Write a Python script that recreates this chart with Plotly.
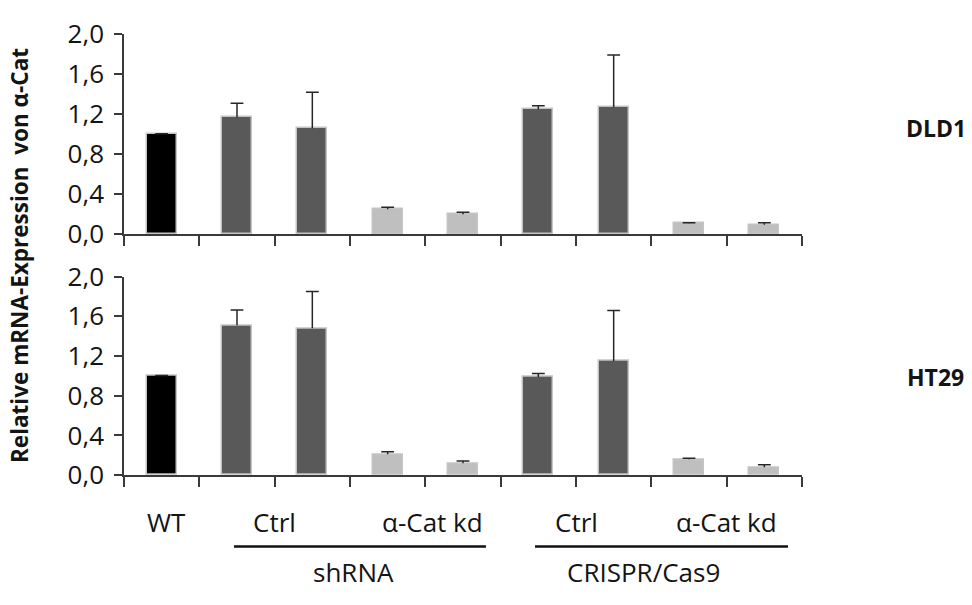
import plotly.graph_objects as go

# Sample order along the x axis
categories = [
    "WT",
    "shRNA Ctrl 1", "shRNA Ctrl 2",
    "shRNA α-Cat kd 1", "shRNA α-Cat kd 2",
    "CRISPR Ctrl 1", "CRISPR Ctrl 2",
    "CRISPR α-Cat kd 1", "CRISPR α-Cat kd 2",
]
groups = ["wt", "ctrl", "ctrl", "kd", "kd", "ctrl", "ctrl", "kd", "kd"]

# Relative mRNA expression of alpha-catenin (mean and upper SD)
dld1 = [1.00, 1.17, 1.06, 0.25, 0.20, 1.25, 1.27, 0.11, 0.095]
dld1_err = [0.005, 0.14, 0.36, 0.02, 0.022, 0.035, 0.52, 0.005, 0.02]
ht29 = [1.00, 1.51, 1.48, 0.21, 0.12, 0.99, 1.15, 0.16, 0.08]
ht29_err = [0.005, 0.155, 0.37, 0.025, 0.022, 0.035, 0.51, 0.01, 0.025]

y_ticks = [0.0, 0.4, 0.8, 1.2, 1.6, 2.0]

group_colors = {"wt": "#000000", "ctrl": "#595959", "kd": "#bfbfbf"}
colors = [group_colors[g] for g in groups]
xpos = list(range(len(categories)))

FONT = "Open Sans"
TXT = "#141414"
AXIS = "#3a3a3a"
CAP = 0.085  # half-width of the error-bar caps in category units


def whiskers(values, errors):
    xs, ys = [], []
    for x, v, e in zip(xpos, values, errors):
        top = v + e
        xs += [x, x, None, x - CAP, x + CAP, None]
        ys += [v, top, None, top, top, None]
    return xs, ys


fig = go.Figure()
for vals, errs, xa, ya in [(dld1, dld1_err, "x", "y"), (ht29, ht29_err, "x2", "y2")]:
    fig.add_trace(go.Bar(
        x=xpos, y=vals, width=0.4, xaxis=xa, yaxis=ya,
        marker=dict(color=colors, line=dict(color="#c4c4c4", width=1.5)),
        hovertext=categories, showlegend=False,
    ))
    wx, wy = whiskers(vals, errs)
    fig.add_trace(go.Scatter(
        x=wx, y=wy, mode="lines", xaxis=xa, yaxis=ya,
        line=dict(color="#262626", width=1.5), showlegend=False, hoverinfo="skip",
    ))

x_dom = [124 / 972, 802 / 972]
top_dom = [1 - 229 / 605, 1 - 16 / 605]
bot_dom = [1 - 485 / 605, 1 - 274 / 605]
bounds = [i - 0.5 for i in range(len(categories) + 1)]

xcommon = dict(
    domain=x_dom, range=[-0.5, len(categories) - 0.5],
    tickmode="array", tickvals=bounds, ticktext=[""] * len(bounds),
    ticks="outside", ticklen=10, tickwidth=1.5, tickcolor=AXIS,
    showline=True, linecolor=AXIS, linewidth=1.5,
    showgrid=False, zeroline=False, fixedrange=True,
)
ycommon = dict(
    range=[0, 2.0], tickmode="array", tickvals=y_ticks, tickformat=".1f",
    ticks="outside", ticklen=8, tickwidth=1.5, tickcolor=AXIS,
    showline=True, linecolor=AXIS, linewidth=1.5,
    showgrid=False, zeroline=False, fixedrange=True,
    tickfont=dict(family=FONT, size=26, color=TXT),
    ticklabelstandoff=5,
)

fig.update_layout(
    width=972, height=605,
    margin=dict(l=0, r=0, t=0, b=0),
    paper_bgcolor="white", plot_bgcolor="white",
    separators=",.",
    bargap=0,
    xaxis=dict(xcommon, anchor="y"),
    yaxis=dict(ycommon, domain=top_dom, anchor="x"),
    xaxis2=dict(xcommon, anchor="y2"),
    yaxis2=dict(ycommon, domain=bot_dom, anchor="x2"),
)

ann = []


def label(text, x, ypix, xref="x2", size=26, bold=False, angle=0):
    ann.append(dict(
        text=text, x=x, y=1 - ypix / 605, xref=xref, yref="paper",
        showarrow=False, xanchor="center", yanchor="middle", textangle=angle,
        font=dict(family=FONT, size=size, color=TXT, weight="bold" if bold else "normal"),
    ))


# Category labels under the lower panel
label("WT", 0.07, 535)
label("Ctrl", 1.5, 535)
label("α-Cat kd", 3.6, 535)
label("Ctrl", 5.5, 535)
label("α-Cat kd", 7.5, 535)
# Method group labels
label("shRNA", 2.55, 588)
label("CRISPR/Cas9", 6.4, 588)
# Cell line labels
label("DLD1", 936 / 972, 116, xref="paper", size=23, bold=True)
label("HT29", 935 / 972, 381, xref="paper", size=23, bold=True)
# Shared y-axis title
label("Relative mRNA-Expression  von α-Cat", 19 / 972, 252, xref="paper",
      size=22.5, bold=True, angle=-90)

fig.update_layout(annotations=ann)

# Brackets that group the shRNA and CRISPR samples
for x0, x1 in [(0.96, 4.305), (4.956, 8.314)]:
    fig.add_shape(type="line", xref="x2", yref="paper",
                  x0=x0, x1=x1, y0=1 - 561 / 605, y1=1 - 561 / 605,
                  line=dict(color="#111111", width=2.5))

fig.write_html("out.html")
